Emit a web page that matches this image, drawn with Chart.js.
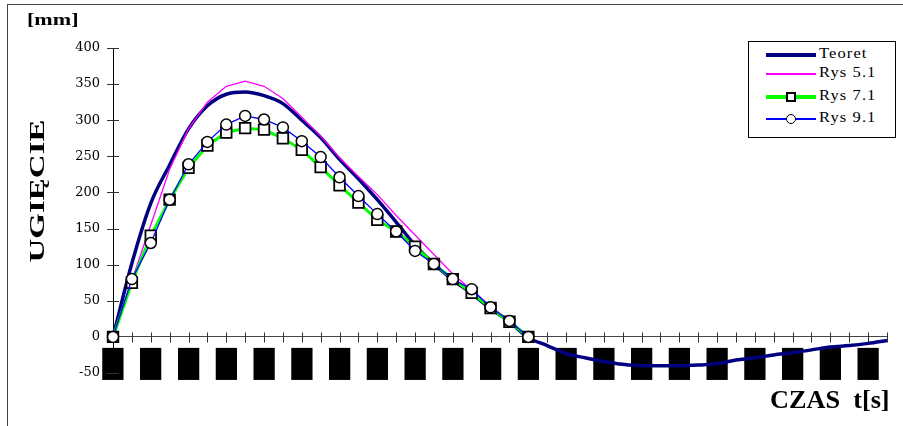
<!DOCTYPE html>
<html>
<head>
<meta charset="utf-8">
<script src="https://cdn.jsdelivr.net/npm/chart.js@4.4.1/dist/chart.umd.min.js"></script>
<style>
  html, body { margin: 0; padding: 0; background: #fff; overflow: hidden; }
  #wrap { position: relative; width: 903px; height: 426px; }
  #frame { position: absolute; left: 7px; top: 4px; width: 1000px; height: 1000px; border: 1px solid #444; box-sizing: border-box; }
  #chartBox { position: absolute; left: 0; top: 0; width: 903px; height: 426px; }
  .lbl { position: absolute; font-family: "Liberation Serif", serif; font-weight: bold; color: #000; white-space: pre; line-height: 1; }
  #legend { position: absolute; left: 748px; top: 41px; width: 148px; height: 97px; border: 1px solid #000; box-sizing: border-box; background: #fff; }
  .row { position: absolute; left: 0; width: 100%; height: 0; }
  .sample { position: absolute; left: 17px; width: 50px; }
  .mk { position: absolute; left: 37px; width: 10px; height: 10px; background: #fff; border: 1.5px solid #000; box-sizing: border-box; }
  .txt { position: absolute; left: 70px; top: -9px; font-family: "Liberation Serif", serif; font-size: 15px; letter-spacing: 1px; transform: scaleX(1.1); transform-origin: left center; white-space: nowrap; line-height: 1; }
</style>
</head>
<body>
<div id="wrap">
  <div id="frame"></div>
  <div id="chartBox"><canvas id="chart"></canvas></div>
  <div class="lbl" style="left:27px; top:11px; font-size:17px; transform:scaleX(1.3); transform-origin:left top;">[mm]</div>
  <div class="lbl" style="left:37px; top:191px; font-size:22px; transform:translate(-50%,-50%) rotate(-90deg) scaleX(1.5);">UGIĘCIE</div>
  <div class="lbl" style="left:770px; top:387px; font-size:25px; transform:scaleX(1.05); transform-origin:left top;">CZAS  t[s]</div>
  <div id="legend"></div>
</div>
<script>
// time steps (categories along the x axis)
const steps = [0, 1, 2, 3, 4, 5, 6, 7, 8, 9, 10, 11, 12, 13, 14, 15, 16, 17, 18, 19, 20,
  21, 22, 23, 24, 25, 26, 27, 28, 29, 30, 31, 32, 33, 34, 35, 36, 37, 38, 39, 40, 41];

// deflection values [mm]
const teoret = [0, 102, 185, 238, 288, 320, 336, 339, 334, 323, 300, 276, 246, 219, 190, 159, 127, 101, 79, 60, 39, 21,
  -1, -12, -23, -29, -34, -38, -40, -40, -40, -39, -37, -32, -29, -25, -22, -18, -14, -12, -9, -5];
const rys51 = [0, 78, 155, 232, 288, 325, 347, 354, 347, 330, 304, 278, 248, 222, 197, 168, 141, 114, 87, 65, 42, 23, 0];
const rys71 = [0, 75, 140, 190, 234, 265, 283, 289, 287, 275, 259, 235, 210, 186, 162, 146, 125, 101, 80, 61, 40, 21, 0];
const rys91 = [0, 80, 130, 190, 239, 270, 294, 306, 301, 290, 271, 249, 221, 195, 170, 146, 119, 101, 80, 66, 41, 22, 0];

// y axis range
const yMin = -50;
const yMax = 400;
const yStep = 50;

const seriesNames = ["Teoret", "Rys 5.1", "Rys 7.1", "Rys 9.1"];

// small cross-shaped tick marks on both axes, like the original
const crossTicks = {
  id: "crossTicks",
  beforeDatasetsDraw(chart) {
    const { ctx, scales: { x, y } } = chart;
    ctx.save();
    ctx.strokeStyle = "#333";
    ctx.lineWidth = 1;
    ctx.beginPath();
    y.ticks.forEach(t => {
      const py = Math.round(y.getPixelForValue(t.value)) + 0.5;
      ctx.moveTo(x.left - 6, py);
      ctx.lineTo(x.left + 6, py);
    });
    const y0 = Math.round(y.getPixelForValue(0)) + 0.5;
    x.ticks.forEach((t, i) => {
      const px = Math.round(x.getPixelForTick(i)) + 0.5;
      ctx.moveTo(px, y0 - 5);
      ctx.lineTo(px, y0 + 5);
    });
    ctx.stroke();
    ctx.restore();
  }
};

const ctx = document.getElementById("chart").getContext("2d");
new Chart(ctx, {
  type: "line",
  data: {
    labels: steps,
    datasets: [
      {
        label: seriesNames[0],
        data: teoret,
        borderColor: "#000080",
        borderWidth: 3.5,
        pointRadius: 0,
        cubicInterpolationMode: "monotone",
        order: 4
      },
      {
        label: seriesNames[1],
        data: rys51,
        borderColor: "#ff00ff",
        borderWidth: 1.3,
        pointRadius: 0,
        tension: 0,
        order: 3
      },
      {
        label: seriesNames[2],
        data: rys71,
        borderColor: "#00ff00",
        borderWidth: 3,
        pointStyle: "rect",
        pointRadius: 7.5,
        pointBackgroundColor: "#fff",
        pointBorderColor: "#000",
        pointBorderWidth: 1.8,
        tension: 0,
        order: 2
      },
      {
        label: seriesNames[3],
        data: rys91,
        borderColor: "#0000ff",
        borderWidth: 1.3,
        pointStyle: "circle",
        pointRadius: 5.5,
        pointBackgroundColor: "#fff",
        pointBorderColor: "#000",
        pointBorderWidth: 1.5,
        tension: 0,
        order: 1
      }
    ]
  },
  options: {
    responsive: true,
    maintainAspectRatio: false,
    animation: false,
    layout: { padding: { top: 48, right: 16, bottom: 53, left: 0 } },
    plugins: {
      legend: { display: false },
      tooltip: { enabled: false }
    },
    scales: {
      x: {
        type: "category",
        position: { y: 0 },
        offset: false,
        grid: { drawOnChartArea: false, drawTicks: false },
        border: { color: "#444", width: 1 },
        ticks: {
          autoSkip: false,
          maxRotation: 0,
          minRotation: 0,
          padding: 13,
          color: "#000",
          font: { family: "DejaVu Sans", size: 27 },
          callback: (val, idx) => (idx % 2 === 0 ? "█" : "")
        }
      },
      y: {
        min: yMin,
        max: yMax,
        grid: { drawOnChartArea: false, drawTicks: false },
        border: { color: "#000", width: 1 },
        ticks: {
          stepSize: yStep,
          padding: 13,
          color: "#000",
          font: { family: "DejaVu Serif", size: 13 }
        },
        afterFit: scale => { scale.width = 113; }
      }
    }
  },
  plugins: [crossTicks]
});

// legend with line + marker samples
const legendStyles = [
  { color: "#000080", width: 4, marker: null },
  { color: "#ff00ff", width: 1.5, marker: null },
  { color: "#00ff00", width: 4, marker: "rect" },
  { color: "#0000ff", width: 1.5, marker: "circle" }
];
const rowTops = [13, 32, 55, 77];
const legend = document.getElementById("legend");
seriesNames.forEach((name, i) => {
  const st = legendStyles[i];
  const row = document.createElement("div");
  row.className = "row";
  row.style.top = rowTops[i] + "px";
  let html = `<div class="sample" style="top:${-st.width / 2}px;height:${st.width}px;background:${st.color}"></div>`;
  if (st.marker) {
    const r = st.marker === "circle" ? "border-radius:50%;" : "border-width:2px;";
    html += `<div class="mk" style="top:-5px;${r}"></div>`;
  }
  html += `<div class="txt">${name}</div>`;
  row.innerHTML = html;
  legend.appendChild(row);
});
</script>
</body>
</html>
